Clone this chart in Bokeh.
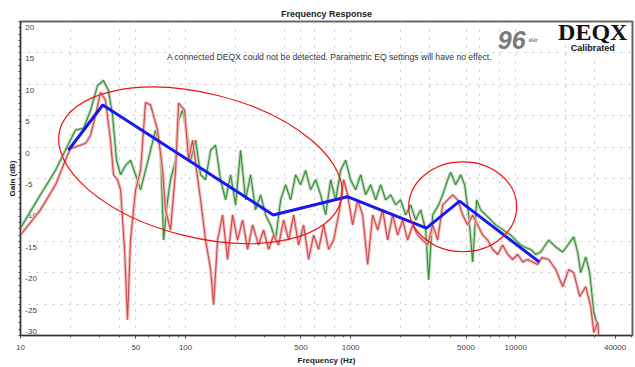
from bokeh.plotting import figure
from bokeh.models import FixedTicker
from bokeh.core.properties import value
from bokeh.embed import file_html
from bokeh.resources import INLINE

# ---------------- data ----------------
green_freq = [10, 13.2, 16.3, 18.7, 21.5, 24.1, 26.6, 29.3, 31.8, 34.1, 36.1, 38.2, 40.4, 43.3,
              46.4, 49.8, 53.4, 57.2, 61.4, 65.8, 70.6, 73.6, 77.8, 81.1, 87.0, 90.7, 95.9,
              101.4, 107.2, 115.0, 123.3, 132.2, 141.8, 152.0, 163.0, 174.8, 187.4, 200.9,
              215.4, 231, 247.7, 265.6, 284.8, 305.4, 327.5, 351.2, 376.6, 403.8, 433, 464.2,
              497.8, 533.8, 572.4, 613.8, 658.1, 705.7, 756.8, 811.4, 870, 932.9, 1000, 1072,
              1150, 1233, 1322, 1418, 1520, 1630, 1748, 1874, 2009, 2154, 2310, 2477, 2656,
              2848, 2970, 3141, 3415, 3611, 3871, 4037, 4329, 4642, 4908, 5190, 5487, 5801,
              6136, 6579, 7057, 7568, 8114, 8700, 9326, 10000, 10722, 11497, 12328, 13219,
              14175, 15849, 17475, 19268, 20661, 22467, 23755, 24771, 26560, 28085, 29704,
              31413, 31852]
green_db = [-12.9, -7.6, -3.7, -0.5, 2.7, 3.0, 5.9, 9.8, 10.6, 9.0, 5.1, -2.1, -4.4, -2.9,
            -2.1, -4.4, -6.8, -3.7, -0.5, 2.7, -0.5, -14.8, -8.4, -5.2, -2.1, 4.3, 5.9,
            2.7, -2.1, 1.1, -4.4, -5.2, -0.5, 0.3, -5.2, -8.4, -4.4, -9.2,
            -0.5, -8.4, -4.4, -10.0, -7.6, -10.8, -12.4, -14.8, -8.4, -6.0, -8.4, -4.4,
            -6.0, -3.7, -6.8, -5.2, -7.6, -10.8, -5.2, -8.4, -3.7, -2.1, -5.2, -6.8,
            -4.4, -7.6, -6.0, -8.4, -6.0, -8.4, -7.6, -9.2, -8.4, -10.8, -9.2, -11.6, -10.0,
            -13.2, -21.1, -10.8, -9.2, -7.6, -5.2, -4.0, -6.0, -4.4, -6.0, -10.8, -18.3, -8.4,
            -10.0, -10.8, -11.6, -12.4, -12.9, -13.5, -14.0, -14.8, -15.6, -16.0, -16.3, -17.1,
            -16.7, -14.8, -15.9, -16.7, -15.6, -14.3, -16.8, -20.0, -17.5, -20.0, -26.3,
            -28.6, -30.6]

red_freq = [10, 13.2, 16.3, 18.7, 20.1, 21.5, 24.8, 26.6, 28.5, 30.5, 32.7, 35.1, 36.6, 38.7,
            40.4, 42.7, 44.5, 46.4, 49.8, 53.4, 57.2, 61.4, 67.7, 72.6, 75.6, 81.1, 87.0,
            90.7, 98.6, 104.3, 110.3, 116.6, 123.3, 132.2, 141.8, 147.8, 156.3, 167.6, 179.7,
            192.7, 206.6, 221.6, 237.6, 254.7, 277.0, 296.9, 318.4, 341.5, 366.2, 392.6,
            421.0, 451.4, 484.0, 519.0, 556.5, 596.7, 639.9, 686.2, 735.8, 788.9, 845.9,
            907.1, 959.0, 1028, 1103, 1182, 1268, 1360, 1458, 1563, 1676, 1797, 1927, 2066,
            2216, 2376, 2547, 2732, 2929, 3141, 3368, 3611, 3871, 4151, 4451, 4773, 5118,
            5487, 5883, 6310, 6766, 7256, 7781, 8343, 8946, 9590, 10283, 11026, 11822, 12676,
            13594, 14375, 15849, 17475, 19268, 20951, 22467, 24426, 26560, 28480, 29704,
            31413, 31852]
red_db = [-14.0, -10.0, -6.0, -2.1, -0.2, 0.0, 0.6, 1.9, 5.1, 8.7, 7.5, 1.1, -4.4, -5.2,
          -6.8, -16.3, -27.5, -14.8, -6.8, -3.7, 7.1, 6.7, 2.7, -3.7, -10.0, -13.2, -3.7,
          7.0, 5.9, -2.1, 1.1, -3.7, -8.4, -14.8, -19.5, -25.1, -14.8, -10.8, -17.9,
          -10.8, -14.8, -11.6, -16.3, -12.4, -15.6, -13.2, -16.3, -14.0, -15.6, -11.6,
          -14.8, -10.8, -15.6, -12.4, -17.9, -14.0, -16.3, -12.4, -16.3, -14.8, -10.8,
          -5.2, -7.6, -12.4, -8.4, -10.8, -18.7, -10.8, -13.2, -10.0, -14.8, -10.8, -14.0, -11.6,
          -14.8, -12.4, -14.0, -14.8, -15.6, -12.4, -14.8, -9.2, -8.4, -7.6, -8.4, -10.8, -12.4,
          -10.8, -12.4, -14.0, -14.8, -16.3, -17.1, -15.6, -17.1, -17.9, -17.1, -18.3, -17.9, -18.3,
          -18.7, -17.6, -17.9, -19.5, -22.2, -19.5, -20.0, -23.8, -22.2, -25.4, -29.5,
          -27.9, -30.2]

target_freq = [19.5, 31.5, 340, 955, 2880, 4570, 13900]
target_db = [-0.5, 6.7, -10.8, -7.9, -12.9, -8.6, -18.3]

circle_freq = [123, 4775]
circle_db = [-2.9, -9.5]

x_ticks = [10, 50, 100, 500, 1000, 5000, 10000, 40000]
x_tick_labels = ["10", "50", "100", "500", "1000", "5000", "10000", "40000"]
x_grid = [20, 40, 50, 80, 100, 200, 400, 500, 600, 800, 1000, 2000, 3000, 5000, 6000,
          8000, 10000, 20000, 30000]
y_ticks = [20, 15, 10, 5, 0, -5, -10, -15, -20, -25, -30]
y_tick_labels = ["20", "15", "10", "5", "0", "-5", "-10", "-15", "-20", "-25", "-30"]

notice = "A connected DEQX could not be detected.  Parametric EQ settings will have no effect."

FONT = "Liberation Sans"

p = figure(width=635, height=367, x_axis_type="log", x_range=(10, 51000), y_range=(-30, 20),
           output_backend="svg", toolbar_location=None,
           min_border_left=20, min_border_right=3, min_border_top=21, min_border_bottom=0)

p.title.text = "Frequency Response"
p.title.align = "center"
p.title.text_font = FONT
p.title.text_font_size = "9px"
p.title.text_font_style = "bold"
p.title.text_color = "#222222"
p.title.standoff = 5
p.title.offset = 0

p.outline_line_color = "#666666"
p.outline_line_width = 2
p.background_fill_color = "white"
p.border_fill_color = "white"

# x axis
minor_x = [m * d for d in (10, 100, 1000, 10000) for m in range(1, 10)]
p.xaxis.ticker = FixedTicker(ticks=x_ticks, minor_ticks=minor_x)
p.xaxis.major_label_overrides = {t: l for t, l in zip(x_ticks, x_tick_labels)}
p.xaxis.major_label_text_font = FONT
p.xaxis.major_label_text_font_size = "8px"
p.xaxis.major_label_text_color = "#444444"
p.xaxis.major_label_standoff = 6
p.xaxis.major_tick_in = 0
p.xaxis.major_tick_out = 3
p.xaxis.minor_tick_in = 0
p.xaxis.minor_tick_out = 2
p.xaxis.axis_line_color = "#333333"
p.xaxis.major_tick_line_color = "#333333"
p.xaxis.minor_tick_line_color = "#555555"
p.xaxis.axis_label = "Frequency (Hz)"
p.xaxis.axis_label_text_font = FONT
p.xaxis.axis_label_text_font_size = "8px"
p.xaxis.axis_label_text_font_style = "bold"
p.xaxis.axis_label_text_color = "#222222"
p.xaxis.axis_label_standoff = 3

# y axis: ticks only (labels are drawn inside the frame, as in the reference)
p.yaxis.ticker = FixedTicker(ticks=[], minor_ticks=list(range(-30, 21)))
p.yaxis.minor_tick_in = 0
p.yaxis.minor_tick_out = 2
p.yaxis.axis_line_color = "#333333"
p.yaxis.minor_tick_line_color = "#444444"
p.yaxis.axis_label = "Gain (dB)"
p.yaxis.axis_label_text_font = FONT
p.yaxis.axis_label_text_font_size = "8px"
p.yaxis.axis_label_text_font_style = "bold"
p.yaxis.axis_label_text_color = "#222222"
p.yaxis.axis_label_standoff = 2

# grids
p.xgrid.ticker = FixedTicker(ticks=x_grid)
p.xgrid.grid_line_color = "#c4c4c4"
p.xgrid.grid_line_dash = "2 6"
p.ygrid.ticker = FixedTicker(ticks=y_ticks)
p.ygrid.grid_line_color = "#c4c4c4"
p.ygrid.grid_line_dash = "2 6"

# y tick labels drawn inside the frame
y_off = [6 if v > -30 else -4 for v in y_ticks]
p.text(x=[10.7] * len(y_ticks), y=y_ticks, text=y_tick_labels, y_offset=y_off,
       text_align="left", text_baseline="middle", text_font=value(FONT),
       text_font_size="8px", text_color="#444444")

# traces
p.line(green_freq, green_db, line_color="#b9dbb9", line_width=3.2)
p.line(green_freq, green_db, line_color="#3a8a3a", line_width=1.1)
p.line(red_freq, red_db, line_color="#f2bcbc", line_width=3.2)
p.line(red_freq, red_db, line_color="#d04848", line_width=1.1)

# target line
p.line(target_freq, target_db, line_color="#1818f0", line_width=3)

# annotation ellipses
p.ellipse(x=circle_freq, y=circle_db, width=[290, 108], height=[144, 90],
          angle=[-0.245, 0.0], width_units="screen", height_units="screen",
          fill_color=None, line_color="#ee1111", line_width=1.2)

# texts
p.text(x=[757], y=[14.3], text=[notice], text_align="center", text_baseline="middle",
       text_font=value(FONT), text_font_size="8.6px", text_color="#333333")
p.text(x=[9460], y=[17.0], text=["96"], text_align="center", text_baseline="alphabetic",
       text_font=value(FONT), text_font_size="25px", text_font_style="bold italic",
       text_color="#7a7a7a")
p.text(x=[11990], y=[17.0], text=["kHz"], text_align="left", text_baseline="alphabetic",
       text_font=value(FONT), text_font_size="5px", text_font_style="bold italic",
       text_color="#7a7a7a")
p.text(x=[29300], y=[18.4], text=["DEQX"], text_align="center", text_baseline="alphabetic",
       text_font=value("Liberation Serif"), text_font_size="24px", text_font_style="bold",
       text_color="#111111")
p.text(x=[29300], y=[15.8], text=["Calibrated"], text_align="center", text_baseline="alphabetic",
       text_font=value(FONT), text_font_size="9px", text_font_style="bold",
       text_color="#111111")

open("out.html", "w").write(file_html(p, INLINE))
